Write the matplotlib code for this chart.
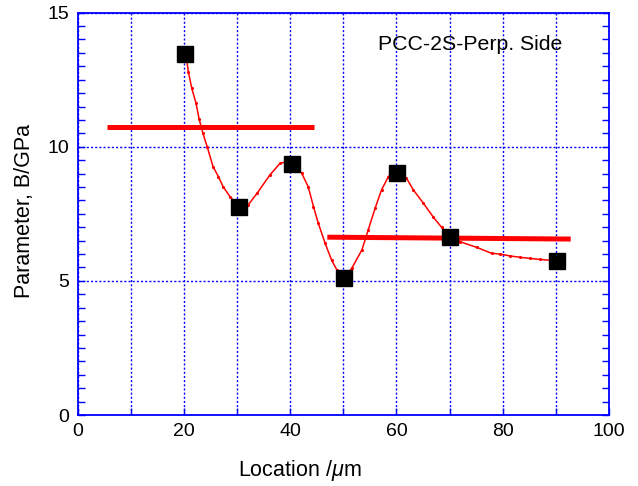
import matplotlib
matplotlib.use("Agg")
import matplotlib.pyplot as plt
from matplotlib.ticker import MultipleLocator

plt.rcParams['font.family'] = ['Liberation Sans', 'DejaVu Sans']
plt.rcParams['mathtext.fontset'] = 'custom'
plt.rcParams['mathtext.it'] = 'Liberation Sans:italic'

# measured points
loc = [20.3, 30.3, 40.4, 50.1, 60.2, 70.1, 90.2]
param = [13.46, 7.77, 9.36, 5.10, 9.01, 6.65, 5.75]

# smooth curve
curve_x = [20.4, 20.85, 21.5, 22.3, 22.9, 23.6, 24.4, 25.5, 26.5, 27.4, 28.7, 30.3,
           32.1, 33.8, 36.2, 38.1, 39.3, 40.4, 41.3, 42.2, 43.4, 44.4, 45.3, 46.6, 47.8, 48.8,
           50.1, 51.6, 53.5, 54.7, 56.0, 57.2, 58.5, 59.4, 60.2, 61.9, 63.2, 65.1, 66.9,
           68.5, 70.1, 72.0, 75.1, 77.9, 79.5, 81.4, 83.3, 85.1, 87.0, 90.2]
curve_y = [13.46, 12.80, 12.18, 11.62, 11.02, 10.50, 10.00, 9.26, 8.89, 8.51, 8.14, 7.77,
           7.83, 8.27, 8.95, 9.38, 9.44, 9.36, 9.22, 9.01, 8.51, 7.77, 7.15, 6.40, 5.78, 5.41,
           5.10, 5.47, 6.15, 6.90, 7.71, 8.39, 8.89, 9.04, 9.01, 8.83, 8.39, 7.89, 7.39,
           7.00, 6.65, 6.46, 6.25, 6.03, 6.00, 5.93, 5.88, 5.84, 5.80, 5.75]

# average levels (thick red bars)
avg1_x = [5.5, 44.5]
avg1_y = [10.74, 10.74]
avg2_x = [47.0, 92.8]
avg2_y = [6.63, 6.56]

fig = plt.figure(figsize=(6.38, 4.86), dpi=100)
ax = fig.add_axes([0.1215, 0.146, 0.833, 0.828])

ax.plot(curve_x, curve_y, color='red', linewidth=1.1, marker='.', markersize=2.5, zorder=3)
ax.plot(avg1_x, avg1_y, color='red', linewidth=3.6, solid_capstyle='butt', zorder=4)
ax.plot(avg2_x, avg2_y, color='red', linewidth=3.6, solid_capstyle='butt', zorder=4)
ax.plot(loc, param, linestyle='none', marker='s', markersize=11, color='black', zorder=5)

ax.text(56.5, 13.83, 'PCC-2S-Perp. Side', fontsize=15.3, va='center', ha='left')

ax.set_xlim(0, 100)
ax.set_ylim(0, 15)
ax.xaxis.set_major_locator(MultipleLocator(20))
ax.xaxis.set_minor_locator(MultipleLocator(10))
ax.yaxis.set_major_locator(MultipleLocator(5))
ax.yaxis.set_minor_locator(MultipleLocator(0.5))

ax.grid(True, which='both', axis='x', color='blue', linestyle=(0, (1.5, 1.5)), linewidth=1)
ax.grid(True, which='major', axis='y', color='blue', linestyle=(0, (1.5, 1.5)), linewidth=1)

for s in ax.spines.values():
    s.set_color('blue')
    s.set_linewidth(1.3)
ax.tick_params(which='both', direction='in', color='blue', right=True, width=1)
ax.tick_params(which='major', length=5, labelsize=14, pad=6)
ax.tick_params(which='minor', length=5)

ax.set_xlabel('Location /$\\mathit{\\mu}$m', fontsize=15.5, va='center')
ax.xaxis.set_label_coords(0.419, -0.138)
ax.set_ylabel('Parameter, B/GPa', fontsize=15.5, va='center')
ax.yaxis.set_label_coords(-0.099, 0.507)

fig.savefig('out.png', dpi=100)
